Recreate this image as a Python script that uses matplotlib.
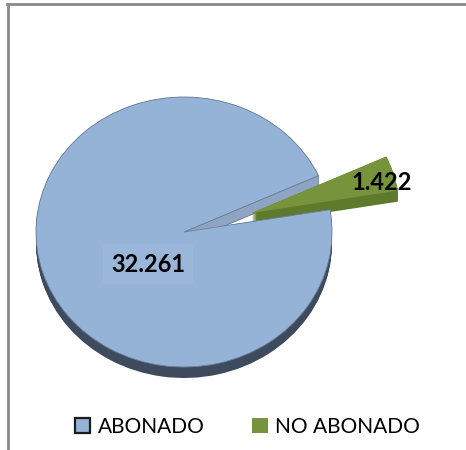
import numpy as np
import matplotlib.pyplot as plt
from matplotlib.patches import Patch, Polygon
from matplotlib.lines import Line2D

# ===============================
# DATA
# ===============================
labels = ["ABONADO", "NO ABONADO"]
values = [32261, 1422]
top_colors = ["#95b3d7", "#77933c"]
side_colors = ["#3e4b5e", "#5e7a2c"]
cut_color = "#8ea4c2"
explode = [0, 0.48]

W, H = 466, 450
CX, CY = 184, 232        # centre of the pie, pixels
RX, RY = 148, 135        # radius along x / y, pixels
DEPTH = 11               # thickness of the 3D pie, pixels

frac = values[1] / sum(values)
start = 9.5 + 360 * frac  # blue starts at upper edge of the gap

plt.rcParams["font.family"] = ["Lato", "DejaVu Sans"]

fig = plt.figure(figsize=(W / 100, H / 100), dpi=100)
ax = fig.add_axes([0, 0, 1, 1])

# side walls: stacked copies pushed down
dy = DEPTH / RY
for k in np.linspace(dy, 0, 12):
    ws, _ = ax.pie(values, startangle=start, explode=explode,
                   colors=side_colors, center=(0, -k),
                   wedgeprops=dict(linewidth=0))
    ws[0].set_zorder(1)
    ws[1].set_zorder(2)

# cut face of the blue slice, visible in the gap
a = np.deg2rad(start)
cut = Polygon([(0, 0), (np.cos(a), np.sin(a)),
               (np.cos(a), np.sin(a) - dy), (0, -dy)],
              closed=True, facecolor=cut_color, edgecolor="#6e819b",
              linewidth=0.5, zorder=1.5)
ax.add_patch(cut)

# top faces
wedges, _ = ax.pie(values, startangle=start, explode=explode,
                   colors=top_colors,
                   wedgeprops=dict(linewidth=0.6))
wedges[0].set_edgecolor("#6d7f98")
wedges[1].set_edgecolor("none")
for w in wedges:
    w.set_zorder(3)

ax.set_aspect("auto")
ax.set_xlim(-CX / RX, (W - CX) / RX)
ax.set_ylim(-(H - CY) / RY, CY / RY)
ax.axis("off")

# value labels
def fmt(v):
    return f"{v:,}".replace(",", ".")

ax.text((148 - CX) / RX, (CY - 264) / RY, fmt(values[0]),
        fontsize=17, fontweight="bold", ha="center", va="center", zorder=5,
        bbox=dict(facecolor="#9ab6d9", edgecolor="none", pad=6))
ax.text((382 - CX) / RX, (CY - 183) / RY, fmt(values[1]),
        fontsize=17, fontweight="bold", ha="center", va="center", zorder=5)

# legend
handles = [Patch(facecolor=top_colors[0], edgecolor="#1c1c1c", linewidth=1.6),
           Patch(facecolor=top_colors[1], edgecolor="none")]
fig.legend(handles, labels, loc="center", bbox_to_anchor=(0.531, 1 - 427 / H),
           ncol=2, frameon=False, fontsize=15, handlelength=0.75,
           handleheight=0.75, handletextpad=0.35, columnspacing=2.3)

# chart frame (partly cropped)
fig.add_artist(Line2D([7 / W, 1], [1 - 3.5 / H, 1 - 3.5 / H],
                      color="#8a8a8a", linewidth=2))
fig.add_artist(Line2D([7.5 / W, 7.5 / W], [0, 1 - 3.5 / H],
                      color="#8a8a8a", linewidth=2))

fig.savefig("out.png", dpi=100, facecolor="white")
